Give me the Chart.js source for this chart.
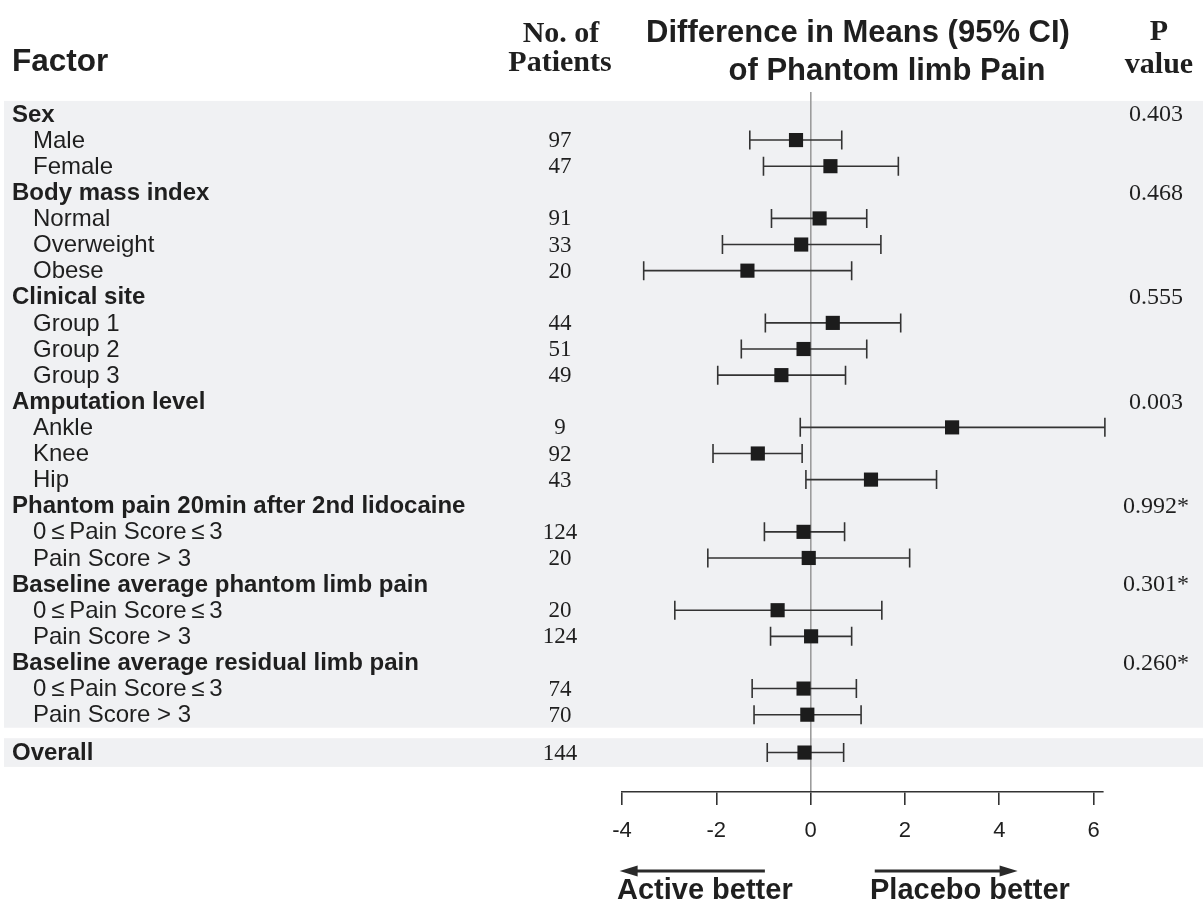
<!DOCTYPE html>
<html><head><meta charset="utf-8">
<script src="https://cdn.jsdelivr.net/npm/chart.js@4.4.1/dist/chart.umd.min.js"></script>
<style>html,body{margin:0;padding:0;background:#fff;}#wrap{width:1203px;height:907px;position:relative;}</style>
</head><body><div id="wrap"><canvas id="c" width="1203" height="907"></canvas></div>
<script>
const rowLabels = ["Sex","Male","Female","Body mass index","Normal","Overweight","Obese","Clinical site","Group 1","Group 2","Group 3","Amputation level","Ankle","Knee","Hip","Phantom pain 20min after 2nd lidocaine","0\u2009≤\u2009Pain Score\u2009≤\u20093","Pain Score > 3","Baseline average phantom limb pain","0\u2009≤\u2009Pain Score\u2009≤\u20093","Pain Score > 3","Baseline average residual limb pain","0\u2009≤\u2009Pain Score\u2009≤\u20093","Pain Score > 3","Overall"];
const isHeading = [1,0,0,1,0,0,0,1,0,0,0,1,0,0,0,1,0,0,1,0,0,1,0,0,1];
const patients = [null,97,47,null,91,33,20,null,44,51,49,null,9,92,43,null,124,20,null,20,124,null,74,70,144];
const estimates = [null,-0.31,0.42,null,0.19,-0.20,-1.34,null,0.47,-0.15,-0.62,null,3.00,-1.12,1.28,null,-0.15,-0.04,null,-0.70,0.01,null,-0.15,-0.07,-0.13];
const ciLower = [null,-1.29,-1.00,null,-0.83,-1.87,-3.54,null,-0.96,-1.47,-1.97,null,-0.22,-2.07,-0.10,null,-0.98,-2.18,null,-2.88,-0.85,null,-1.24,-1.20,-0.92];
const ciUpper = [null,0.66,1.86,null,1.19,1.49,0.87,null,1.91,1.19,0.74,null,6.24,-0.18,2.67,null,0.72,2.10,null,1.51,0.87,null,0.97,1.07,0.70];
const pValues = ["0.403",null,null,"0.468",null,null,null,"0.555",null,null,null,"0.003",null,null,null,"0.992*",null,null,"0.301*",null,null,"0.260*",null,null,null];
const xTicks = [-4,-2,0,2,4,6];

const SANS = '"Liberation Sans", Arial, sans-serif';
const SERIF = '"Liberation Serif", "Times New Roman", serif';
const INK = '#1f1f1f';
// Overall row sits after a small gap
function rowPos(i){ return i < rowLabels.length - 1 ? i : i + 0.45; }

const points = [];
estimates.forEach((v,i)=>{ if(v!==null) points.push({x:v, y:rowPos(i), lo:ciLower[i], hi:ciUpper[i]}); });

const bandPlugin = {
  id:'bands',
  beforeDraw(chart){
    const {ctx} = chart; const y = chart.scales.y;
    ctx.save();
    ctx.fillStyle = '#f0f1f3';
    const last = rowLabels.length - 1;
    const t1 = y.getPixelForValue(-0.5), b1 = y.getPixelForValue(last - 0.5);
    ctx.fillRect(4, t1, chart.width - 4, b1 - t1);
    const t2 = y.getPixelForValue(rowPos(last) - 0.55), b2 = y.getPixelForValue(rowPos(last) + 0.55);
    ctx.fillRect(4, t2, chart.width - 4, b2 - t2);
    ctx.restore();
  }
};

const errPlugin = {
  id:'errbars',
  beforeDatasetsDraw(chart){
    const {ctx} = chart; const xs = chart.scales.x, ys = chart.scales.y;
    ctx.save();
    ctx.strokeStyle = '#333'; ctx.lineWidth = 1.6;
    points.forEach(p=>{
      const y = ys.getPixelForValue(p.y);
      const x1 = xs.getPixelForValue(p.lo), x2 = xs.getPixelForValue(p.hi);
      ctx.beginPath();
      ctx.moveTo(x1,y); ctx.lineTo(x2,y);
      ctx.moveTo(x1,y-9.5); ctx.lineTo(x1,y+9.5);
      ctx.moveTo(x2,y-9.5); ctx.lineTo(x2,y+9.5);
      ctx.stroke();
    });
    ctx.restore();
  }
};

const textPlugin = {
  id:'texts',
  afterDraw(chart){
    const {ctx} = chart; const ys = chart.scales.y, xs = chart.scales.x;
    ctx.save();
    ctx.fillStyle = INK; ctx.textBaseline = 'middle';
    // headers
    ctx.textAlign = 'left';
    ctx.font = 'bold 31.5px ' + SANS; ctx.fillText('Factor', 12, 62);
    ctx.textAlign = 'center';
    ctx.font = 'bold 30px ' + SERIF;
    ctx.fillText('No. of', 561, 34); ctx.fillText('Patients', 560, 63);
    ctx.fillText('P', 1159, 32); ctx.fillText('value', 1159, 65);
    ctx.font = 'bold 31px ' + SANS;
    ctx.fillText('Difference in Means (95% CI)', 858, 33);
    ctx.fillText('of Phantom limb Pain', 887, 71);
    // rows
    rowLabels.forEach((lab,i)=>{
      const y = ys.getPixelForValue(rowPos(i));
      ctx.textAlign = 'left';
      if(isHeading[i]){ ctx.font = 'bold 24px ' + SANS; ctx.fillText(lab, 12, y + 1); }
      else { ctx.font = '24px ' + SANS; ctx.fillText(lab, 33, y + 1); }
      if(patients[i]!==null){ ctx.textAlign='center'; ctx.font = '23px ' + SERIF; ctx.fillText(String(patients[i]), 560, y+1); }
      if(pValues[i]!==null){ ctx.textAlign='center'; ctx.font = '24px ' + SERIF; ctx.fillText(pValues[i], 1156, y + 1); }
    });
    // direction arrows
    const ay = 871;
    ctx.strokeStyle = '#2a2a2a'; ctx.fillStyle = '#2a2a2a'; ctx.lineWidth = 3;
    const lx1 = xs.getPixelForValue(-4.05), lx2 = xs.getPixelForValue(-0.97);
    const rx1 = xs.getPixelForValue(1.36), rx2 = xs.getPixelForValue(4.39);
    ctx.beginPath(); ctx.moveTo(lx1+15, ay); ctx.lineTo(lx2, ay); ctx.stroke();
    ctx.beginPath(); ctx.moveTo(lx1, ay); ctx.lineTo(lx1+18, ay-5.5); ctx.lineTo(lx1+18, ay+5.5); ctx.closePath(); ctx.fill();
    ctx.beginPath(); ctx.moveTo(rx1, ay); ctx.lineTo(rx2-15, ay); ctx.stroke();
    ctx.beginPath(); ctx.moveTo(rx2, ay); ctx.lineTo(rx2-18, ay-5.5); ctx.lineTo(rx2-18, ay+5.5); ctx.closePath(); ctx.fill();
    ctx.fillStyle = INK; ctx.textAlign = 'left'; ctx.font = 'bold 29px ' + SANS;
    ctx.fillText('Active better', 617, 891);
    ctx.fillText('Placebo better', 870, 891);
    ctx.restore();
  }
};

new Chart(document.getElementById('c'), {
  type:'scatter',
  data:{ datasets:[{ data: points, pointStyle:'rect', pointRadius:10, pointHoverRadius:10,
    backgroundColor:'#1c1c1c', borderColor:'#1c1c1c', borderWidth:0 }]},
  options:{
    responsive:false, animation:false, events:[],
    layout:{padding:{left:622, right:100, top:92, bottom:0}},
    plugins:{legend:{display:false}, tooltip:{enabled:false}},
    scales:{
      x:{ type:'linear', min:-4, max:6.2, position:'bottom',
        afterBuildTicks: s => { s.ticks = xTicks.map(v=>({value:v})); },
        afterFit: s => { s.height = 115; },
        grid:{ drawOnChartArea:true, color: c => (c.tick && c.tick.value===0) ? '#9c9c9c' : 'rgba(0,0,0,0)',
               lineWidth:1.6, tickColor:'#333', tickWidth:1.6, tickLength:13 },
        border:{ display:true, color:'#333', width:1.6 },
        ticks:{ font:{family:SANS, size:22}, color:INK, padding:13 } },
      y:{ type:'linear', reverse:true, min:-0.84, max:25.96, display:false }
    }
  },
  plugins:[bandPlugin, errPlugin, textPlugin]
});
</script></body></html>
